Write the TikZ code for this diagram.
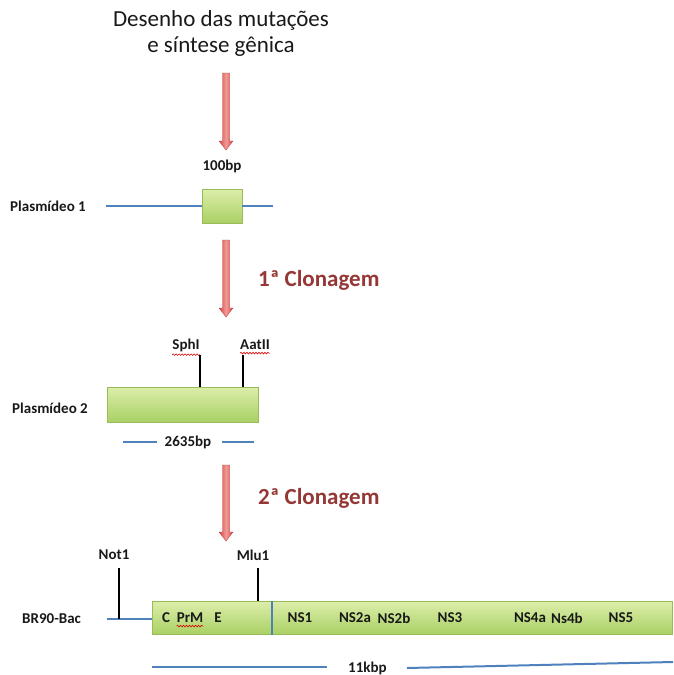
\documentclass[tikz,border=0pt]{standalone}
\usepackage{fontspec}
\setmainfont{Carlito}
\usetikzlibrary{calc,decorations.pathmorphing}
\definecolor{dnablue}{HTML}{4F81BD}
\definecolor{boxgreenT}{HTML}{DCEEAA}
\definecolor{boxgreenB}{HTML}{A9D064}
\definecolor{boxedge}{HTML}{9BBB59}
\definecolor{arrowdark}{HTML}{D2453F}
\definecolor{arrowlight}{HTML}{F39A96}
\definecolor{clonred}{HTML}{953735}
\newcommand{\blockarrow}[2]{%
  \path[arrowfill] ($(#1)+(-3.5,0)$) -- ($(#2)+(-3.5,-9)$) -- ($(#2)+(-7,-9)$) -- (#2)
    -- ($(#2)+(7,-9)$) -- ($(#2)+(3.5,-9)$) -- ($(#1)+(3.5,0)$) -- cycle;}
\begin{document}
\begin{tikzpicture}[x=1pt,y=-1pt,
  lbl/.style={font=\fontsize{15}{17}\selectfont\bfseries, text=black!90, inner sep=0pt},
  title/.style={font=\fontsize{23}{26}\selectfont, text=black!90, align=center, inner sep=0pt},
  clon/.style={font=\fontsize{23}{26}\selectfont\bfseries, text=clonred, inner sep=0pt},
  dnaline/.style={draw=dnablue, line width=2pt},
  genebox/.style={draw=boxedge, line width=0.8pt, top color=boxgreenT, bottom color=boxgreenB, inner sep=0pt},
  site/.style={draw=black, line width=2pt},
  wavy/.style={draw=red!85!black, line width=0.6pt, decorate, decoration={snake, amplitude=0.8pt, segment length=3pt}},
  arrowfill/.style={left color=arrowdark, right color=arrowdark, middle color=arrowlight, draw=arrowdark!85!black, line width=0.3pt}]
\useasboundingbox (0,0) rectangle (673,675);

% title
\node[title] (title) at (221,33) {Desenho das mutações\\e síntese gênica};

% arrows
\coordinate (a1t) at (226,73);  \coordinate (a1b) at (226,150);
\coordinate (a2t) at (226,240); \coordinate (a2b) at (226,317);
\coordinate (a3t) at (226,465); \coordinate (a3b) at (226,541);
\blockarrow{a1t}{a1b}
\blockarrow{a2t}{a2b}
\blockarrow{a3t}{a3b}
\node[clon, anchor=west] (clon1) at (258,280) {1ª Clonagem};
\node[clon, anchor=west] (clon2) at (258,498) {2ª Clonagem};

% plasmid 1
\node[lbl] (bp100) at (222,166) {100bp};
\node[lbl, anchor=west] (pl1) at (10,206) {Plasmídeo 1};
\node[genebox, minimum width=40pt, minimum height=34pt] (ins1) at (222,206) {};
\coordinate (p1L) at (106,206); \coordinate (p1R) at (273,206);
\draw[dnaline] (p1L) -- (ins1.west);
\draw[dnaline] (ins1.east) -- (p1R);

% plasmid 2
\node[lbl, anchor=west] (pl2) at (12,408) {Plasmídeo 2};
\node[genebox, minimum width=151pt, minimum height=35pt] (ins2) at (182.5,404.5) {};
\node[lbl] (sph) at (186,345) {SphI};
\node[lbl] (aat) at (255,345) {AatII};
\draw[wavy] ($(sph.south west)+(0,3)$) -- ($(sph.south east)+(0,3)$);
\draw[wavy] ($(aat.south west)+(0,3)$) -- ($(aat.south east)+(0,3)$);
\coordinate (sphT) at (200,355); \coordinate (aatT) at (243,355);
\draw[site] (sphT) -- (sphT |- ins2.north);
\draw[site] (aatT) -- (aatT |- ins2.north);
\node[lbl] (bp2635) at (188,442) {2635bp};
\coordinate (s2a) at (123,442); \coordinate (s2b) at (222,442); \coordinate (s2c) at (254,442);
\draw[dnaline] (s2a) -- ($(bp2635.west)+(-8,0)$);
\draw[dnaline] (s2b) -- (s2c);

% BR90-Bac
\node[lbl, anchor=west] (br) at (22,619) {BR90-Bac};
\node[genebox, minimum width=520pt, minimum height=33pt] (gen) at (412,618) {};
\coordinate (bL) at (107,619);
\draw[dnaline] (bL) -- (bL -| gen.west);
\node[lbl] (not) at (114,555) {Not1};
\node[lbl] (mlu) at (253,555) {Mlu1};
\coordinate (notT) at (119,568); \coordinate (mluT) at (258,568);
\draw[site] (notT) -- (notT |- bL);
\draw[site] (mluT) -- (mluT |- gen.north);
\coordinate (div) at (272,618);
\draw[draw=dnablue, line width=1.6pt] (div |- gen.north) -- (div |- gen.south);

\node[lbl] (gC) at (166,618) {C};
\node[lbl] (gPrM) at (190,618) {PrM};
\draw[wavy] ($(gPrM.south west)+(0,3)$) -- ($(gPrM.south east)+(0,3)$);
\node[lbl] (gE) at (218,618) {E};
\node[lbl] (gNS1) at (300,618) {NS1};
\node[lbl] (gNS2a) at (355,618) {NS2a};
\node[lbl] (gNS2b) at (394,618) {NS2b};
\node[lbl] (gNS3) at (450,618) {NS3};
\node[lbl] (gNS4a) at (530,618) {NS4a};
\node[lbl] (gNS4b) at (567,618) {Ns4b};
\node[lbl] (gNS5) at (621,618) {NS5};

\node[lbl, anchor=west] (kbp) at (348,668) {11kbp};
\coordinate (k1) at (152,667); \coordinate (k2) at (407,668); \coordinate (k3) at (673,662);
\draw[dnaline] (k1) -- ($(kbp.west)+(-21,-1)$);
\draw[dnaline] (k2) -- (k3);
\end{tikzpicture}
\end{document}
